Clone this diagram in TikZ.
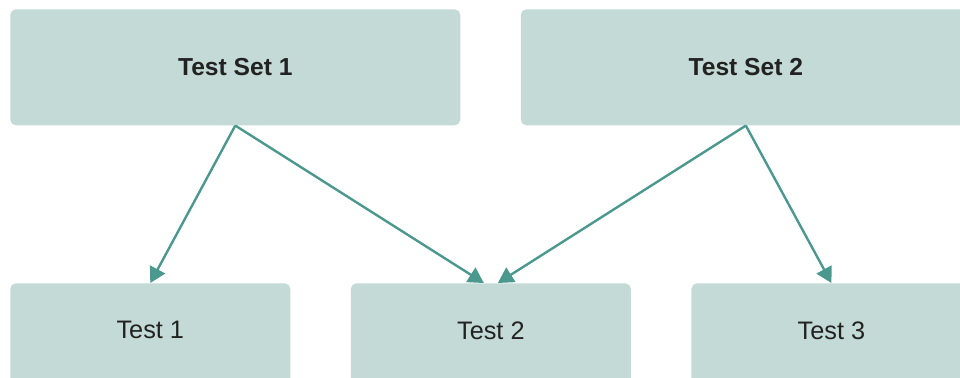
\documentclass[tikz,border=0pt]{standalone}
\usepackage{fontspec}
\setmainfont{Liberation Sans}
\usepackage{xcolor}
\usepackage{tikz}
\usetikzlibrary{
  positioning,
  arrows.meta
}
\definecolor{boxbg}{RGB}{196,218,214}
\definecolor{arrowcolor}{RGB}{74,152,142}
\definecolor{textcolor}{RGB}{34,34,34}
\tikzset{
  setbox/.style={
    draw=none, fill=boxbg, rounded corners=4pt,
    minimum width=11.25cm, minimum height=2.9cm,
    text=textcolor, font=\fontsize{17.5}{21}\selectfont\bfseries, align=center
  },
  testbox/.style={
    draw=none, fill=boxbg, rounded corners=4pt,
    minimum width=7cm, minimum height=2.9cm, text depth=0.55cm,
    text=textcolor, font=\fontsize{18}{21}\selectfont, align=center
  },
  linkarrow/.style={
    -{Triangle[length=11pt,width=12pt]}, line width=1.7pt, draw=arrowcolor
  }
}
\begin{document}
\begin{tikzpicture}[
    node distance=1.5cm
  ]
    \useasboundingbox (0,0) rectangle (24,-9.425);
    \clip (0,0) rectangle (24,-9.425);

    % top row
    \node[setbox, anchor=north west] (set1) at (0.25,-0.225) {Test Set 1};
    \node[setbox, right=of set1] (set2) {Test Set 2};

    % bottom row
    \node[testbox, anchor=north west] (test1) at (0.25,-7.075) {Test 1};
    \node[testbox, right=of test1] (test2) {Test 2};
    \node[testbox, right=of test2] (test3) {Test 3};

    \draw[linkarrow] (set1.south) -- (test1.north);
    \draw[linkarrow] (set1.south) -- ([xshift=-0.175cm]test2.north);
    \draw[linkarrow] (set2.south) -- ([xshift=0.175cm]test2.north);
    \draw[linkarrow] (set2.south) -- (test3.north);

  \end{tikzpicture}
\end{document}
